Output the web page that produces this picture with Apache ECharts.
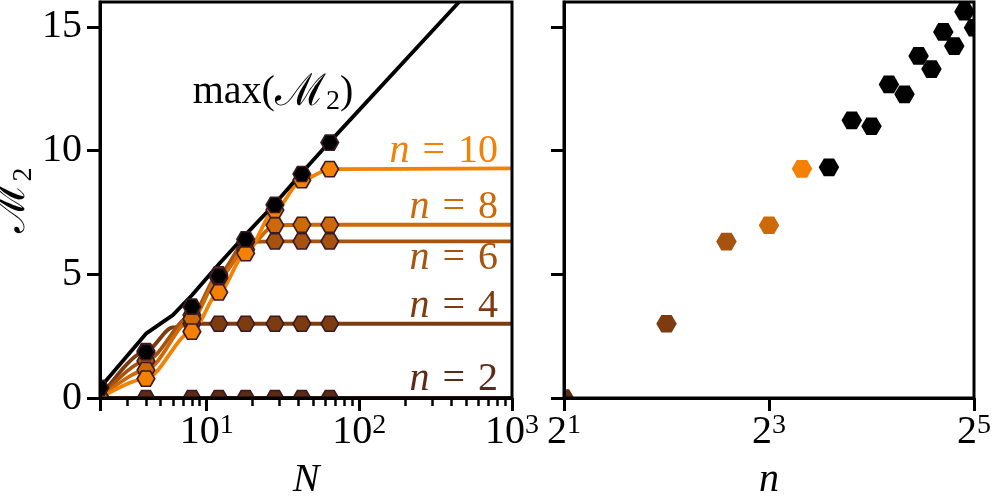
<!DOCTYPE html>
<html><head><meta charset="utf-8">
<script src="https://cdn.jsdelivr.net/npm/echarts@6/dist/echarts.min.js"></script>
<style>html,body{margin:0;padding:0;background:#fff}#c{width:996px;height:498px}</style>
</head><body><div id="c"></div>
<script>
// ---------- data: left panel (M2 versus N) ----------
const N_VALUES = [2, 4, 8, 12, 18, 28, 42, 64];           // marker positions
const M2_N2  = [0, 0, 0, 0, 0, 0, 0, 0];
const M2_N4  = [0, 1.9, 3.0, 3.0, 3.0, 3.0, 3.0, 3.0];
const M2_N6  = [0, 1.5, 3.35, 5.0, 6.3, 6.33, 6.33, 6.33];
const M2_N8  = [0, 1.13, 3.2, 4.85, 6.0, 6.98, 7.0, 7.0];
const M2_N10 = [0, 0.78, 2.68, 4.27, 5.85, 7.6, 8.8, 9.25];
const M2_BLACK = [0.41, 1.85, 3.69, 4.93, 6.41, 7.8, 9.05, 10.32];

const LINE_N = [2, 4, 8, 12, 18, 28, 42, 64, 1000];       // curve sample positions
const LINE_N2  = [0, 0, 0, 0, 0, 0, 0, 0, 0];
const LINE_N4_X = [2, 4, 6, 8, 12, 18, 28, 42, 64, 1000];
const LINE_N4  = [0, 1.9, 2.85, 3.0, 3.0, 3.0, 3.0, 3.0, 3.0, 3.0];
const LINE_N6  = [0, 1.5, 3.35, 5.0, 6.3, 6.33, 6.33, 6.33, 6.33];
const LINE_N8  = [0, 1.13, 3.2, 4.85, 6.0, 6.98, 7.0, 7.0, 7.0];
const LINE_N10 = [0, 0.78, 2.68, 4.27, 5.85, 7.6, 8.8, 9.25, 9.28];

const MAX_N  = [2, 4, 6, 8, 12, 18, 28, 42, 64, 450];
const MAX_M2 = [0.41, 2.6, 3.35, 4.15, 5.4, 6.6, 7.85, 9.1, 10.35, 16.0];

const X_LABELS = [10, 100, 1000];
const X_MINOR = [3,4,5,6,7,8,9,20,30,40,50,60,70,80,90,200,300,400,500,600,700,800,900];
const Y_TICKS = [0, 5, 10, 15];

// ---------- data: right panel (M2 versus n) ----------
const SMALL_N = [2, 4, 6, 8, 10, 12, 14, 16, 18, 20, 22, 24, 26, 28, 30, 32];
const M2_AT_N = [0, 3.0, 6.32, 6.98, 9.26, 9.32, 11.22, 10.98, 12.67, 12.27, 13.82, 13.29, 14.79, 14.22, 15.61, 14.96];
const N_LABELS = [2, 8, 32];

// ---------- styles ----------
const SERIF = 'Liberation Serif';
const FS = 40;
const COLORS = {2: '#5c2a15', 4: '#7d3c10', 6: '#a5530e', 8: '#cd6a07', 10: '#f58104'};
const BORDER = '#3b1a24';
const HEX = 'path://M0,0.866L0.5,0L1.5,0L2,0.866L1.5,1.732L0.5,1.732Z';
const G0 = {left: 100, top: 2, width: 412, height: 396};
const G1 = {left: 564, top: 2, width: 410, height: 396};
const LW = 3.8;

const supRich = {
  b: {fontFamily: SERIF, fontSize: FS, lineHeight: FS, verticalAlign: 'bottom', padding: [4, 0, 0, 0], color: '#000'},
  s: {fontFamily: SERIF, fontSize: 28, lineHeight: 28, verticalAlign: 'top', color: '#000'}
};
const axisLineStyle = {color: '#000', width: 3};
const majorTick = {show: true, length: 13, lineStyle: {color: '#000', width: 3}};

function zip(xs, ys) { return xs.map((x, i) => [x, ys[i]]); }

function curve(n, xs, ys) {
  return {type: 'line', xAxisIndex: 0, yAxisIndex: 0, data: zip(xs, ys),
    showSymbol: false, smooth: 0.3, smoothMonotone: 'x', z: 2,
    lineStyle: {color: COLORS[n], width: LW}, silent: true};
}
function markers(color, ys, z) {
  return {type: 'scatter', xAxisIndex: 0, yAxisIndex: 0, data: zip(N_VALUES, ys),
    symbol: HEX, symbolSize: [17.5, 15.2], z: z,
    itemStyle: {color: color, borderColor: BORDER, borderWidth: 1.6, opacity: 1}};
}

const chart = echarts.init(document.getElementById('c'), null, {renderer: 'canvas'});
const gridBase = {show: true, zlevel: 1, z: 10, borderColor: '#000', borderWidth: 3,
  backgroundColor: 'transparent', containLabel: false, outerBoundsMode: 'none'};
const option = {
  animation: false,
  backgroundColor: '#fff',
  grid: [Object.assign({}, gridBase, G0), Object.assign({}, gridBase, G1)],
  xAxis: [
    {gridIndex: 0, type: 'log', logBase: 10, min: 2, max: 1000, position: 'bottom', zlevel: 1, z: 11,
     axisLine: {lineStyle: axisLineStyle},
     axisTick: majorTick,
     axisLabel: {customValues: X_LABELS, margin: 14, rich: supRich,
       formatter: v => '{b|10}{s|' + Math.round(Math.log10(v)) + '}'},
     splitLine: {show: false},
     name: 'N', nameLocation: 'middle', nameGap: 62,
     nameTextStyle: {fontFamily: SERIF, fontStyle: 'italic', fontSize: FS, color: '#000'}},
    // helper axis (same extent, in decades) that only draws the minor ticks
    {gridIndex: 0, type: 'value', min: Math.log10(2), max: 3, position: 'bottom', zlevel: 1, z: 11,
     axisLine: {show: false},
     axisTick: {show: true, customValues: X_MINOR.map(v => Math.log10(v)), length: 8, lineStyle: {color: '#000', width: 2.5}},
     axisLabel: {show: false}, splitLine: {show: false}},
    {gridIndex: 1, type: 'log', logBase: 2, min: 2, max: 32, interval: 2, position: 'bottom', zlevel: 1, z: 11,
     axisLine: {lineStyle: axisLineStyle},
     axisTick: majorTick,
     axisLabel: {customValues: N_LABELS, margin: 14, rich: supRich,
       formatter: v => '{b|2}{s|' + Math.round(Math.log2(v)) + '}'},
     splitLine: {show: false},
     name: 'n', nameLocation: 'middle', nameGap: 62,
     nameTextStyle: {fontFamily: SERIF, fontStyle: 'italic', fontSize: FS, color: '#000'}}
  ],
  yAxis: [
    {gridIndex: 0, type: 'value', min: 0, max: 16, zlevel: 1, z: 11,
     axisLine: {lineStyle: axisLineStyle},
     axisTick: Object.assign({customValues: Y_TICKS}, majorTick),
     axisLabel: {customValues: Y_TICKS, margin: 18, fontFamily: SERIF, fontSize: FS, color: '#000'},
     splitLine: {show: false},
     name: '{m|ℳ}{s|2}', nameLocation: 'middle', nameGap: 63, nameRotate: 90,
     nameTextStyle: {rich: {
       m: {fontFamily: 'DejaVu Serif', fontSize: 44, lineHeight: 44, verticalAlign: 'top', color: '#000'},
       s: {fontFamily: SERIF, fontSize: 28, lineHeight: 28, verticalAlign: 'top', padding: [20, 0, 0, 0], color: '#000'}}}},
    {gridIndex: 1, type: 'value', min: 0, max: 16, zlevel: 1, z: 11,
     axisLine: {lineStyle: axisLineStyle},
     axisTick: Object.assign({customValues: Y_TICKS}, majorTick),
     axisLabel: {show: false}, splitLine: {show: false}}
  ],
  series: [
    curve(2, LINE_N, LINE_N2), curve(4, LINE_N4_X, LINE_N4), curve(6, LINE_N, LINE_N6),
    curve(8, LINE_N, LINE_N8), curve(10, LINE_N, LINE_N10),
    {type: 'line', xAxisIndex: 0, yAxisIndex: 0, data: zip(MAX_N, MAX_M2), showSymbol: false,
     smooth: false, z: 2, lineStyle: {color: '#000', width: LW}, silent: true},
    markers(COLORS[2], M2_N2, 3), markers(COLORS[4], M2_N4, 3), markers(COLORS[6], M2_N6, 3),
    markers(COLORS[8], M2_N8, 3), markers(COLORS[10], M2_N10, 3), markers('#000', M2_BLACK, 4),
    {type: 'scatter', xAxisIndex: 2, yAxisIndex: 1, data: zip(SMALL_N, M2_AT_N),
     symbol: HEX, symbolSize: [20.5, 17.7], z: 3,
     itemStyle: {color: p => COLORS[p.value[0]] || '#000', opacity: 1}}
  ],
  graphic: {elements: [
    // white masks outside the plotting areas (clip markers at the frame)
    {type: 'rect', z: 5, silent: true, shape: {x: 60, y: 0, width: 40, height: 440}, style: {fill: '#fff'}},
    {type: 'rect', z: 5, silent: true, shape: {x: 60, y: 398, width: 480, height: 40}, style: {fill: '#fff'}},
    {type: 'rect', z: 5, silent: true, shape: {x: 540, y: 0, width: 24, height: 440}, style: {fill: '#fff'}},
    {type: 'rect', z: 5, silent: true, shape: {x: 540, y: 398, width: 456, height: 40}, style: {fill: '#fff'}},
    {type: 'rect', z: 5, silent: true, shape: {x: 974, y: 0, width: 22, height: 440}, style: {fill: '#fff'}},
    // annotations
    {type: 'text', z: 20, x: 273, y: 92, silent: true, style: {
      text: '{r|max(}{m|ℳ}{s|2}{r|)}', align: 'center', verticalAlign: 'middle',
      rich: {r: {fontFamily: SERIF, fontSize: FS, lineHeight: FS, verticalAlign: 'top', fill: '#000'},
             m: {fontFamily: 'DejaVu Serif', fontSize: 44, lineHeight: FS, verticalAlign: 'top', fill: '#000'},
             s: {fontFamily: SERIF, fontSize: 28, lineHeight: 28, verticalAlign: 'top', padding: [16, 0, 0, 0], fill: '#000'}}}},
    ...[[10, 151], [8, 207], [6, 258], [4, 306], [2, 379]].map(([n, y]) => ({
      type: 'text', z: 20, x: 498, y: y, silent: true, style: {
        text: '{i|n}{e|=}{r|' + n + '}', align: 'right', verticalAlign: 'middle',
        rich: {i: {fontFamily: SERIF, fontStyle: 'italic', fontSize: FS, fill: COLORS[n]},
               e: {fontFamily: SERIF, fontSize: FS, padding: [0, 13, 0, 13], fill: COLORS[n]},
               r: {fontFamily: SERIF, fontSize: FS, fill: COLORS[n]}}}}))
  ]}
};
chart.setOption(option);
</script></body></html>
